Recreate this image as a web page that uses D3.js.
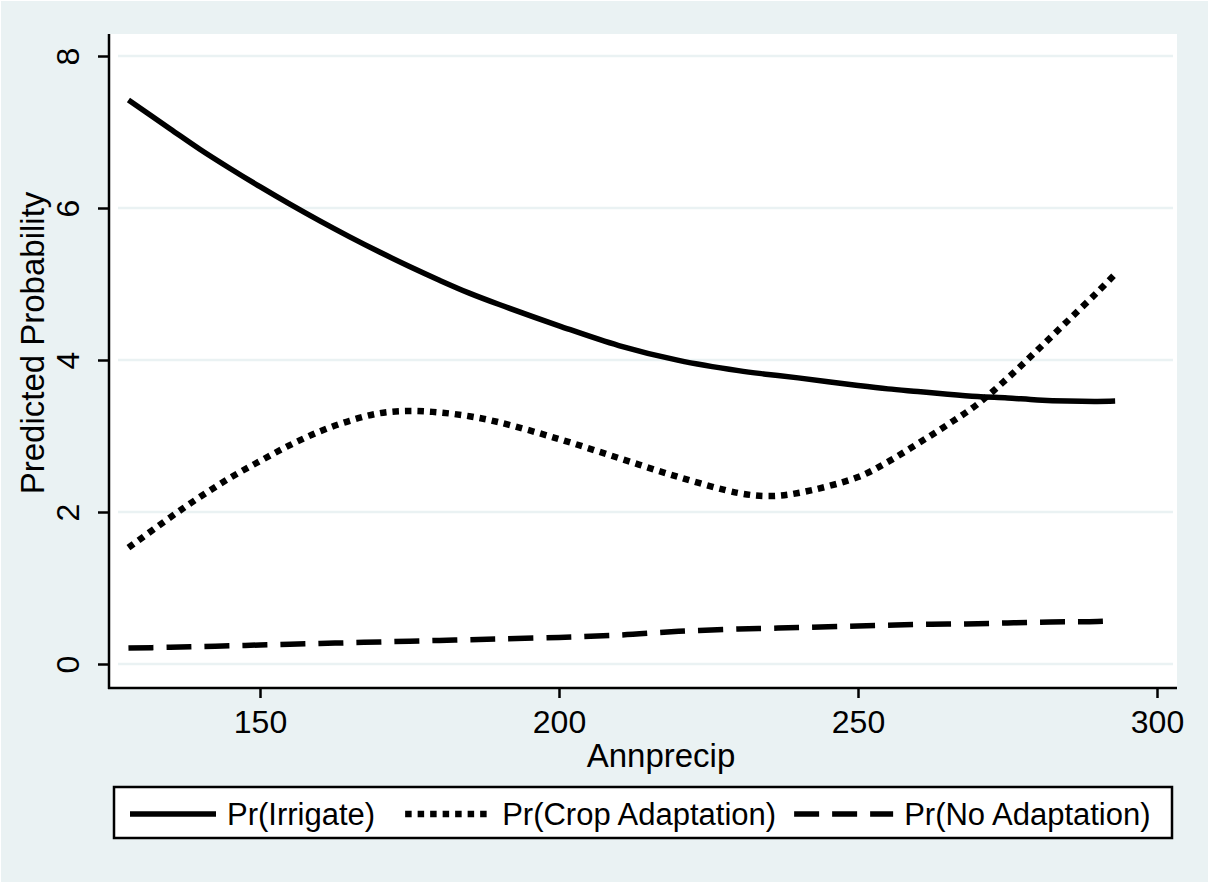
<!DOCTYPE html>
<html>
<head>
<meta charset="utf-8">
<script src="https://cdn.jsdelivr.net/npm/d3@7"></script>
<style>
  body { margin: 0; background: #ffffff; }
  text { font-family: "Liberation Sans", Arial, sans-serif; fill: #000; }
</style>
</head>
<body>
<div id="chart"></div>
<script>
// Data
var annprecip  = [128, 135, 140, 145, 150, 155, 160, 165, 170, 175, 180, 185, 190, 200, 210, 220, 230, 235, 240, 250, 255, 260, 265, 270, 275, 280, 285, 290, 293];
var prIrrigate = [7.42, 7.04, 6.77, 6.52, 6.28, 6.05, 5.83, 5.62, 5.42, 5.23, 5.05, 4.88, 4.73, 4.45, 4.19, 3.995, 3.86, 3.81, 3.765, 3.665, 3.62, 3.585, 3.55, 3.52, 3.50, 3.475, 3.46, 3.455, 3.46];
var prCrop     = [1.53, 1.93, 2.20, 2.45, 2.67, 2.88, 3.06, 3.20, 3.30, 3.33, 3.31, 3.26, 3.18, 2.96, 2.71, 2.46, 2.25, 2.21, 2.25, 2.46, 2.66, 2.90, 3.15, 3.42, 3.76, 4.13, 4.51, 4.89, 5.13];
var prNone     = [0.21, 0.22, 0.23, 0.24, 0.25, 0.26, 0.27, 0.28, 0.29, 0.30, 0.31, 0.32, 0.33, 0.35, 0.38, 0.43, 0.46, 0.47, 0.48, 0.50, 0.51, 0.52, 0.525, 0.53, 0.54, 0.55, 0.555, 0.56, 0.57];
var seriesNames = ['Pr(Irrigate)', 'Pr(Crop Adaptation)', 'Pr(No Adaptation)'];
var xTicks = [150, 200, 250, 300];
var yTicks = [0, 2, 4, 6, 8];

(function () {
  var W = 1210, H = 884;
  var bg = '#eaf2f3';

  var svg = d3.select('#chart').append('svg')
      .attr('width', W)
      .attr('height', H);

  // graph region
  svg.append('rect')
      .attr('x', 1).attr('y', 1)
      .attr('width', W - 3).attr('height', H - 3)
      .attr('fill', bg);

  // plot region
  var plot = {left: 109, right: 1177, top: 34, bottom: 688};
  svg.append('rect')
      .attr('x', plot.left).attr('y', plot.top)
      .attr('width', plot.right - plot.left)
      .attr('height', plot.bottom - plot.top)
      .attr('fill', '#ffffff');

  var x = d3.scaleLinear().domain([150, 300]).range([260, 1157]);
  var y = d3.scaleLinear().domain([0, 8]).range([664, 56]);

  // grid lines
  svg.append('g')
    .selectAll('line')
    .data(yTicks)
    .enter().append('line')
      .attr('x1', 118).attr('x2', 1173)
      .attr('y1', function(d) { return y(d); })
      .attr('y2', function(d) { return y(d); })
      .attr('stroke', bg)
      .attr('stroke-width', 2.5);

  // y axis
  var yAxis = svg.append('g')
      .attr('transform', 'translate(' + plot.left + ',0)')
      .call(d3.axisLeft(y).tickValues(yTicks).tickSize(11).tickSizeOuter(0).tickFormat(''));
  yAxis.select('.domain').remove();
  yAxis.selectAll('.tick line').attr('stroke', '#000').attr('stroke-width', 2.5);
  svg.append('line')
      .attr('x1', plot.left).attr('x2', plot.left)
      .attr('y1', plot.top).attr('y2', plot.bottom + 1)
      .attr('stroke', '#000').attr('stroke-width', 2.5);

  yAxis.selectAll('.tick').append('text')
      .attr('transform', 'translate(-30,0) rotate(-90)')
      .attr('text-anchor', 'middle')
      .style('font-size', '32px')
      .text(function(d) { return d; });

  // x axis
  var xAxis = svg.append('g')
      .attr('transform', 'translate(0,' + plot.bottom + ')')
      .call(d3.axisBottom(x).tickValues(xTicks).tickSize(10).tickSizeOuter(0).tickFormat(''));
  xAxis.select('.domain').remove();
  xAxis.selectAll('.tick line').attr('stroke', '#000').attr('stroke-width', 2.5);
  svg.append('line')
      .attr('x1', plot.left - 1).attr('x2', plot.right)
      .attr('y1', plot.bottom).attr('y2', plot.bottom)
      .attr('stroke', '#000').attr('stroke-width', 2.5);

  xAxis.selectAll('.tick').append('text')
      .attr('y', 45)
      .attr('text-anchor', 'middle')
      .style('font-size', '32px')
      .text(function(d) { return d; });

  // axis titles
  svg.append('text')
      .attr('x', 661).attr('y', 767)
      .attr('text-anchor', 'middle')
      .style('font-size', '33px')
      .text('Annprecip');

  svg.append('text')
      .attr('transform', 'translate(44,343) rotate(-90)')
      .attr('text-anchor', 'middle')
      .style('font-size', '33px')
      .text('Predicted Probability');

  // lines
  var styles = [
    {dash: null, width: 5.5},
    {dash: '6.5,6', width: 6.5},
    {dash: '25,13', width: 5.5}
  ];
  var seriesData = [prIrrigate, prCrop, prNone];

  var line = d3.line()
      .x(function(d) { return x(d[0]); })
      .y(function(d) { return y(d[1]); })
      .curve(d3.curveCatmullRom.alpha(0.5));

  seriesData.forEach(function(vals, i) {
    var pts = annprecip.map(function(a, k) { return [a, vals[k]]; });
    svg.append('path')
        .datum(pts)
        .attr('fill', 'none')
        .attr('stroke', '#000')
        .attr('stroke-width', styles[i].width)
        .attr('stroke-dasharray', styles[i].dash)
        .attr('stroke-linecap', 'butt')
        .attr('d', line);
  });

  // legend
  var legend = svg.append('g');
  legend.append('rect')
      .attr('x', 114).attr('y', 787)
      .attr('width', 1058).attr('height', 51)
      .attr('fill', '#ffffff')
      .attr('stroke', '#000')
      .attr('stroke-width', 2.5);

  var lx = 130, sampleLen = [86, 86, 99], itemGap = [30, 18, 0];
  seriesNames.forEach(function(name, i) {
    legend.append('line')
        .attr('x1', lx).attr('x2', lx + sampleLen[i])
        .attr('y1', 814).attr('y2', 814)
        .attr('stroke', '#000')
        .attr('stroke-width', styles[i].width)
        .attr('stroke-dasharray', styles[i].dash);
    var t = legend.append('text')
        .attr('x', lx + sampleLen[i] + 11)
        .attr('y', 825)
        .style('font-size', '31px')
        .text(name);
    lx = lx + sampleLen[i] + 11 + t.node().getComputedTextLength() + itemGap[i];
  });
})();
</script>
</body>
</html>
